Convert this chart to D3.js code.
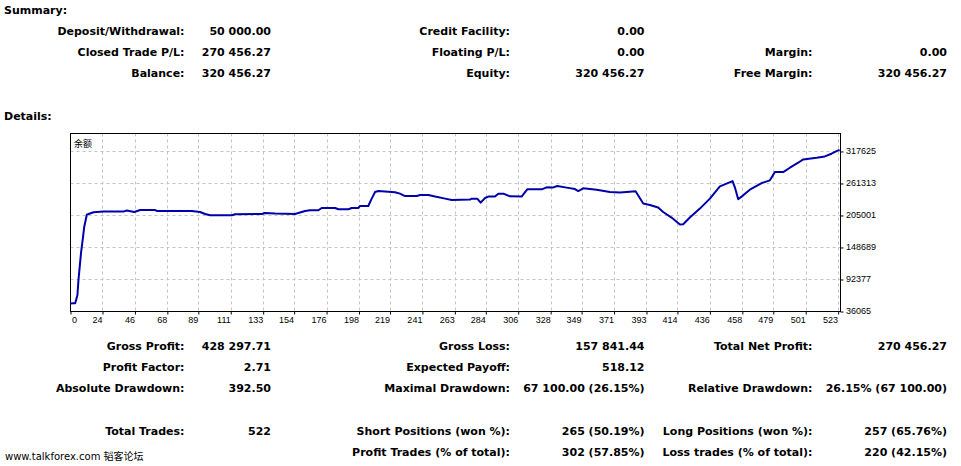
<!DOCTYPE html>
<html><head><meta charset="utf-8">
<script src="https://cdn.jsdelivr.net/npm/d3@7/dist/d3.min.js"></script>
<style>
html,body{margin:0;padding:0;background:#fff;}
svg{display:block;}
.b{font-family:"DejaVu Sans",Verdana,sans-serif;font-weight:bold;font-size:11px;fill:#000;}
.tick{font-family:"Liberation Sans",Arial,sans-serif;font-size:9px;fill:#000;}
</style></head>
<body>
<svg id="c" width="961" height="466"></svg>
<script>
// ---- data ----
const xTickLabels = [0,24,46,68,89,111,133,154,176,198,219,241,263,284,306,328,349,371,393,414,436,458,479,501,523];
const yTickLabels = [36065,92377,148689,205001,261313,317625];
const trades = [0,4,5.5,7,7.7,9.4,10.7,11.6,13.4,14.1,17.9,24.7,38.2,40.5,45.5,49.6,59.7,60.9,84.6,90.2,93.6,97,111.7,114,132.1,134.3,141.1,154.6,161.4,164.8,170.4,172.7,181.8,184,190.8,193.1,197.6,198.7,204.3,206.6,208.9,211.1,222.4,225.8,229.2,237.2,239.4,245,249.6,256.4,260.9,273.3,274.4,278.2,280.5,283.5,285.7,290.2,292.5,295.9,300.4,308.3,312.1,321.9,325.3,329.4,332.5,338.8,344.5,346.7,350.1,359.2,368.2,375,379.5,385.6,390.8,395.3,400.9,404.3,410,415.7,417.9,422.4,429.2,436,442.8,447.3,451.4,452.9,455.2,458.6,463.1,471.1,476.7,480.1,485.7,490.3,495.9,499.3,508.4,514,518.5,521.9,524];
const balance = [50000,50400,50450,65000,91300,138200,165000,184800,206600,207100,210600,211800,211800,213600,211100,214600,214600,212900,212900,211100,207600,205300,205300,207100,207600,209400,208300,207600,212900,214100,214100,218200,218200,215900,215900,218200,218200,221700,221700,234600,246200,248000,245700,243400,239200,239200,241000,241000,238200,234600,232200,232900,234600,234600,227600,235700,238200,238200,243400,243400,238700,238200,251000,251000,254500,254000,256800,254000,251500,248000,252700,250400,246200,245200,246200,247500,225900,223400,218900,211100,201300,189000,189600,201300,217100,234600,256200,261000,265500,255000,233400,240400,250400,262000,266800,281300,281300,289000,297800,303600,306600,308900,313600,318200,320456];
const seriesLabel = "余额";

const summaryRows = [
  ["Deposit/Withdrawal:", "50 000.00", "Credit Facility:", "0.00", "", ""],
  ["Closed Trade P/L:", "270 456.27", "Floating P/L:", "0.00", "Margin:", "0.00"],
  ["Balance:", "320 456.27", "Equity:", "320 456.27", "Free Margin:", "320 456.27"]
];
const detailRows = [
  ["Gross Profit:", "428 297.71", "Gross Loss:", "157 841.44", "Total Net Profit:", "270 456.27"],
  ["Profit Factor:", "2.71", "Expected Payoff:", "518.12", "", ""],
  ["Absolute Drawdown:", "392.50", "Maximal Drawdown:", "67 100.00 (26.15%)", "Relative Drawdown:", "26.15% (67 100.00)"],
  ["Total Trades:", "522", "Short Positions (won %):", "265 (50.19%)", "Long Positions (won %):", "257 (65.76%)"],
  ["", "", "Profit Trades (% of total):", "302 (57.85%)", "Loss trades (% of total):", "220 (42.15%)"]
];

// ---- layout ----
const svg = d3.select("#c");
svg.append("rect").attr("width",961).attr("height",466).attr("fill","#fff");

const colEnds = [184.5, 271, 510, 644.5, 812.5, 947];
function drawRows(rows, baselines){
  rows.forEach((r,i)=>{
    r.forEach((t,j)=>{
      if(!t) return;
      svg.append("text").attr("class","b").attr("x",colEnds[j]).attr("y",baselines[i])
        .attr("text-anchor","end").text(t);
    });
  });
}
svg.append("text").attr("class","b").attr("x",4).attr("y",13.5).text("Summary:");
drawRows(summaryRows,[34.5,55.5,76.5]);
svg.append("text").attr("class","b").attr("x",4).attr("y",119.5).text("Details:");
drawRows(detailRows,[349.5,370.5,391.5,434.5,455.5]);

svg.append("text").attr("x",5).attr("y",460)
  .style("font-family","'DejaVu Sans','Noto Sans CJK SC',sans-serif").style("font-size","10px")
  .attr("fill","#000").text("www.talkforex.com 韬客论坛");

// ---- chart ----
const L=70.5, R=840.5, T=133.5, B=311.5;
const x = d3.scaleLinear().domain([2.3,524.6]).range([L,R]).clamp(true);
const y = d3.scaleLinear().domain([36065,349200]).range([B,T]);

const g = svg.append("g");
// grid
g.selectAll(".vg").data(xTickLabels.slice(1)).enter().append("line")
  .attr("x1",d=>Math.round(x(d))+0.5).attr("x2",d=>Math.round(x(d))+0.5)
  .attr("y1",T).attr("y2",B).attr("stroke","#c4c4c4").attr("stroke-dasharray","3,3");
g.selectAll(".hg").data(yTickLabels.slice(1)).enter().append("line")
  .attr("y1",d=>Math.round(y(d))+0.5).attr("y2",d=>Math.round(y(d))+0.5)
  .attr("x1",L).attr("x2",R).attr("stroke","#c4c4c4").attr("stroke-dasharray","3,3");

// axes
const xAxis = d3.axisBottom(x).tickValues(xTickLabels).tickSize(3).tickFormat(d3.format("d"));
const xa = g.append("g").attr("transform",`translate(0,${B})`).call(xAxis);
xa.select(".domain").remove();
xa.selectAll(".tick line").attr("stroke","#000");
xa.selectAll(".tick text").attr("class","tick").attr("y",11.5).attr("dy",0)
  .attr("text-anchor",(d,i)=>i===0?"start":"end").attr("dx",(d,i)=>i===0?1:-0.5);

const yAxis = d3.axisRight(y).tickValues(yTickLabels).tickSize(3).tickFormat(d3.format("d"));
const ya = g.append("g").attr("transform",`translate(${R},0)`).call(yAxis);
ya.select(".domain").remove();
ya.selectAll(".tick line").attr("stroke","#000");
ya.selectAll(".tick text").attr("class","tick").attr("x",5.5).attr("dy",(d,i)=>i===0?1.5:2.5);

// frame
g.append("rect").attr("x",L).attr("y",T).attr("width",R-L).attr("height",B-T)
  .attr("fill","none").attr("stroke","#000").attr("stroke-width",1);

// line
const pts = trades.map((t,i)=>[t,balance[i]]);
g.append("path").datum(pts)
  .attr("d",d3.line().x(d=>x(d[0])).y(d=>y(d[1])))
  .attr("fill","none").attr("stroke","#0000aa").attr("stroke-width",2).attr("stroke-linejoin","round");

g.append("text").attr("x",74).attr("y",146.5)
  .style("font-family","'Noto Sans CJK SC',sans-serif").style("font-size","9px").attr("fill","#000")
  .text(seriesLabel);
</script>
</body></html>
